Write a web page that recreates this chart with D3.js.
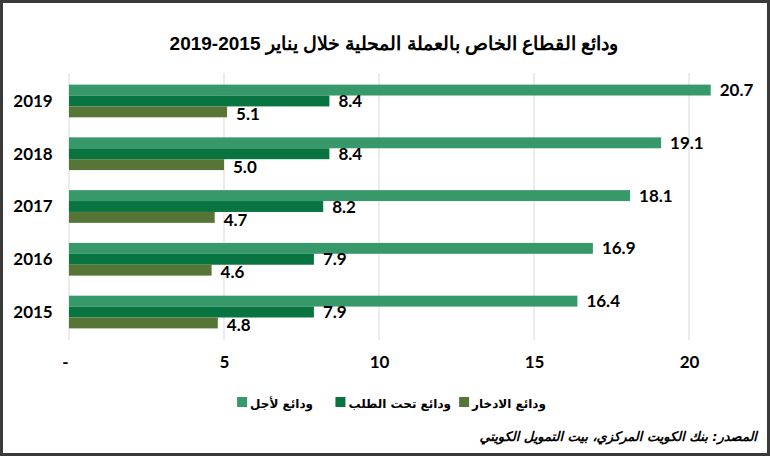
<!DOCTYPE html>
<html>
<head>
<meta charset="utf-8">
<script src="https://cdn.jsdelivr.net/npm/d3@7"></script>
<style>
  body { margin: 0; background: #fff; }
  svg { display: block; }
</style>
</head>
<body>
<div id="chart"></div>
<script>
const years = ['2019', '2018', '2017', '2016', '2015'];
const timeDeposits = [20.7, 19.1, 18.1, 16.9, 16.4];
const demandDeposits = [8.4, 8.4, 8.2, 7.9, 7.9];
const savingDeposits = [5.1, 5.0, 4.7, 4.6, 4.8];
const seriesNames = ['ودائع لأجل', 'ودائع تحت الطلب', 'ودائع الادخار'];
const tickValues = [0, 5, 10, 15, 20];
const tickLabels = ['-', '5', '10', '15', '20'];

const width = 770, height = 459;
const margin = { top: 73, left: 69, right: 81, bottom: 119 };
const colors = ['#37986a', '#087440', '#587538'];
const numFont = 'Lato, "Open Sans", sans-serif';
const arFont = '"DejaVu Sans", sans-serif';

const svg = d3.select('#chart').append('svg')
  .attr('width', width)
  .attr('height', height);

// frame
svg.append('rect')
  .attr('x', 1.5).attr('y', 1.5)
  .attr('width', width - 3).attr('height', height - 6)
  .attr('fill', '#fff')
  .attr('stroke', '#3a3a3a')
  .attr('stroke-width', 3);

svg.append('text')
  .attr('x', 394).attr('y', 50)
  .attr('text-anchor', 'middle')
  .style('font-family', '"Liberation Sans", Arial, sans-serif')
  .style('font-weight', 'bold')
  .style('font-size', '19px')
  .text('ودائع القطاع الخاص بالعملة المحلية خلال يناير 2015-2019');

const x = d3.scaleLinear()
  .domain([0, 20])
  .range([margin.left, margin.left + 620]);

const y = d3.scaleBand()
  .domain(years)
  .range([margin.top, height - margin.bottom])
  .paddingInner(0.38)
  .paddingOuter(0.22);

const inner = d3.scaleBand()
  .domain(d3.range(3))
  .range([0, y.bandwidth()]);

// gridlines
svg.append('g')
  .selectAll('line')
  .data(tickValues)
  .join('line')
  .attr('x1', d => x(d)).attr('x2', d => x(d))
  .attr('y1', margin.top).attr('y2', height - margin.bottom)
  .attr('stroke', '#d9d9d9')
  .attr('stroke-width', 1);

// x tick labels
const xAxis = d3.axisBottom(x)
  .tickValues(tickValues)
  .tickFormat((d, i) => tickLabels[i])
  .tickSize(0)
  .tickPadding(0);

const xg = svg.append('g')
  .attr('transform', `translate(0, ${height - margin.bottom + 16})`)
  .call(xAxis);
xg.select('.domain').remove();
xg.selectAll('text')
  .style('font-family', numFont)
  .style('font-weight', 'bold')
  .style('font-size', '17px')
  .attr('fill', '#000');
xg.selectAll('.tick').filter(d => d === 0).select('text').attr('dx', -4);

// year labels
svg.append('g')
  .selectAll('text')
  .data(years)
  .join('text')
  .attr('x', 33)
  .attr('y', d => y(d) + y.bandwidth() / 2)
  .attr('dy', '0.35em')
  .attr('text-anchor', 'middle')
  .style('font-family', numFont)
  .style('font-weight', 'bold')
  .style('font-size', '17px')
  .text(d => d);

const allSeries = [timeDeposits, demandDeposits, savingDeposits];

allSeries.forEach((vals, s) => {
  const g = svg.append('g');
  g.selectAll('rect')
    .data(vals)
    .join('rect')
    .attr('x', x(0))
    .attr('y', (d, i) => y(years[i]) + inner(s))
    .attr('width', d => x(d) - x(0))
    .attr('height', inner.bandwidth())
    .attr('fill', colors[s]);

  g.selectAll('text')
    .data(vals)
    .join('text')
    .attr('x', d => x(d) + 9)
    .attr('y', (d, i) => y(years[i]) + inner(s) + inner.bandwidth() / 2 + (s === 2 ? 2 : 0))
    .attr('dy', '0.36em')
    .style('font-family', numFont)
    .style('font-weight', 'bold')
    .style('font-size', '17px')
    .text(d => d.toFixed(1));
});

// legend, right to left
const legendItems = [
  { name: seriesNames[2], color: colors[2], right: 546 },
  { name: seriesNames[1], color: colors[1], right: 451 },
  { name: seriesNames[0], color: colors[0], right: 313 }
];
const lg = svg.append('g');
legendItems.forEach(item => {
  const t = lg.append('text')
    .attr('x', item.right)
    .attr('y', 408)
    .attr('text-anchor', 'end')
    .style('font-family', arFont)
    .style('font-weight', 'bold')
    .style('font-size', '12px')
    .text(item.name);
  const w = t.node().getComputedTextLength();
  lg.append('rect')
    .attr('x', item.right - w - 13)
    .attr('y', 397)
    .attr('width', 10).attr('height', 10)
    .attr('fill', item.color);
});

svg.append('text')
  .attr('x', 757).attr('y', 441)
  .attr('text-anchor', 'end')
  .style('font-family', arFont)
  .style('font-weight', 'bold')
  .style('font-style', 'italic')
  .style('font-size', '13px')
  .text('المصدر: بنك الكويت المركزي، بيت التمويل الكويتي');
</script>
</body>
</html>
